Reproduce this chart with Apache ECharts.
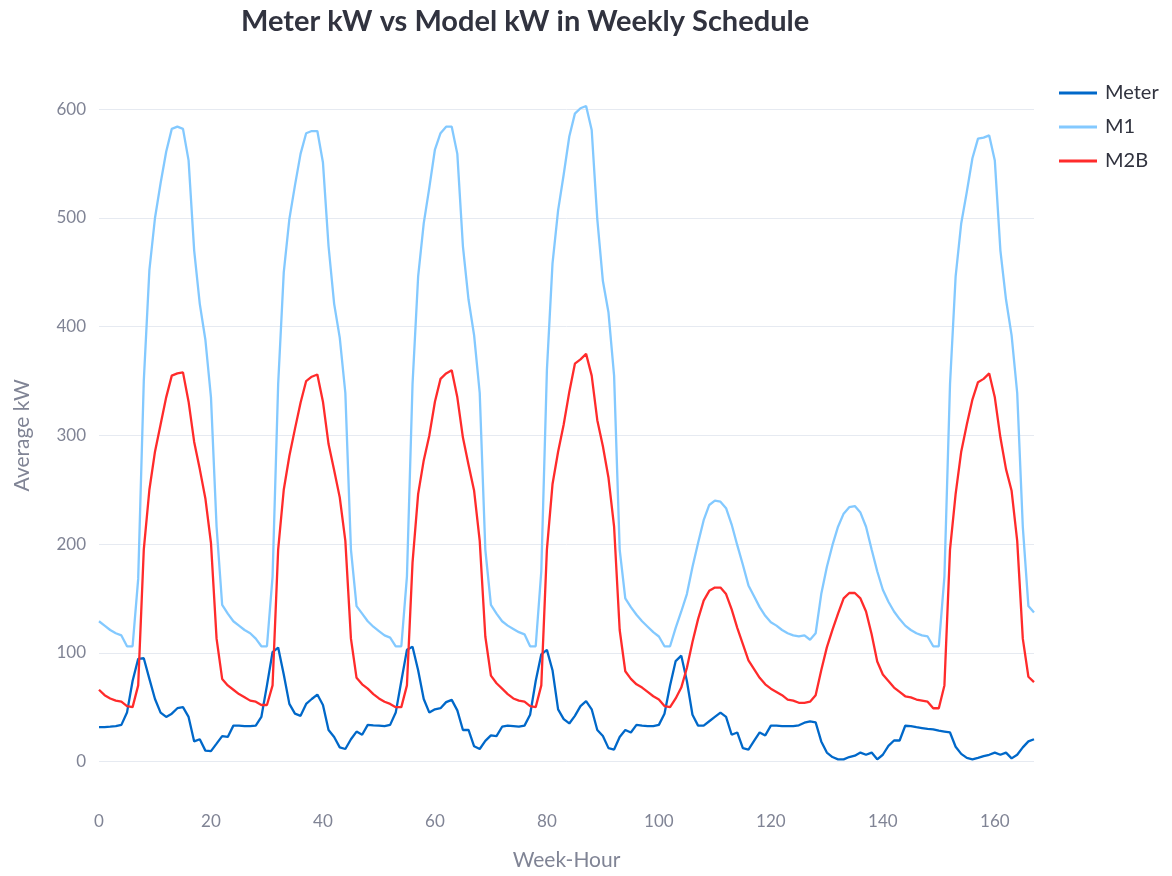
<!DOCTYPE html>
<html>
<head>
<meta charset="utf-8">
<title>Meter kW vs Model kW</title>
<script src="https://cdn.jsdelivr.net/npm/echarts@6/dist/echarts.min.js"></script>
<style>
  html, body { margin: 0; padding: 0; background: #fff; }
  #lineChart { width: 1172px; height: 876px; }
</style>
</head>
<body>
<div id="lineChart"></div>
<script>
// week hours 0..167
var hours = [];
for (var h = 0; h < 168; h++) hours.push(h);

var meterKw = [
  31.6, 31.6, 32, 32.5, 33.7, 45, 74, 94.5, 95, 76, 57.5, 45, 41, 44, 49, 50, 41, 18.5, 20.5, 10, 9.5, 16.4, 23.4, 22.6,
  33, 33, 32.5, 32.5, 33, 41, 70, 100.7, 104.8, 80, 53, 44, 42, 53, 57.5, 61.6, 52, 29, 22.6, 13, 11.5, 20.5, 27.5, 24.6,
  33.7, 33.3, 33, 32.5, 33.7, 45, 74, 102.7, 105.6, 84, 57.5, 45, 48, 49, 54.6, 56.7, 47, 29, 29, 14, 11.5, 19, 24, 23.4,
  32, 33, 32.5, 32, 33, 43, 74, 98.6, 102.7, 84, 48, 39, 35, 42, 51, 55.5, 48, 29, 23.4, 12.3, 11, 22.6, 29, 26.7,
  33.7, 33, 32.5, 32.5, 33.7, 44, 70, 92.4, 97.4, 74, 43, 33, 33, 37, 41, 45, 41, 24.6, 26.7, 12.3, 11, 19, 26.7, 24,
  33, 33, 32.5, 32.5, 32.5, 33.3, 35.7, 37, 36, 18.5, 8.2, 4.1, 2, 2, 4.1, 5.3, 8.2, 6.2, 8.2, 2, 6.2, 14.4, 19.3, 19.3,
  32.9, 32.5, 31.6, 30.8, 30, 29.6, 28.3, 27.5, 26.7, 13.6, 7, 3.3, 2, 3.3, 4.9, 6.2, 8.2, 6.2, 8.2, 2.9, 6.2, 13, 18.5, 20.5
];

var m1Kw = [
  129, 125, 121, 118, 116, 106, 106, 168, 350, 452, 500, 532, 561, 582, 584, 582, 553, 470, 421, 388, 335, 216, 144, 136,
  129, 125, 121, 118, 113, 106, 106, 170, 347, 450, 499, 530, 559, 578, 580, 580, 551, 474, 421, 390, 339, 195, 143, 136,
  129, 124, 120, 116, 114, 106, 106, 170, 347, 446, 495, 528, 563, 578, 584, 584, 559, 474, 425, 392, 339, 195, 144, 136,
  129, 125, 122, 119, 117, 106, 106, 175, 360, 458, 507, 540, 575, 596, 601, 603, 581, 499, 442, 413, 355, 195, 150, 142,
  135, 129, 124, 119, 115, 106, 106, 123, 138, 154, 179, 201, 222, 236, 240, 239, 233, 218, 199, 181, 162, 152, 142, 134,
  128, 125, 121, 118, 116, 115, 116, 112, 118, 154, 179, 199, 216, 228, 234, 235, 229, 216, 195, 175, 158, 147, 138, 131,
  125, 121, 118, 116, 115, 106, 106, 170, 347, 446, 495, 524, 555, 573, 574, 576, 553, 470, 425, 392, 339, 216, 143, 137
];

var m2bKw = [
  66, 61, 58, 56, 55, 51, 50, 70, 195, 250, 285, 310, 335, 355, 357, 358, 331, 294, 269, 242, 201, 113, 76, 70,
  66, 62, 59, 56, 55, 52, 52, 70, 195, 250, 281, 306, 330, 350, 354, 356, 331, 292, 268, 243, 203, 113, 77, 71,
  67, 62, 58, 55, 53, 50, 50, 70, 183, 246, 277, 300, 331, 352, 357, 360, 335, 298, 273, 249, 203, 115, 79, 72,
  67, 62, 58, 56, 55, 51, 50, 70, 195, 255, 285, 310, 340, 366, 370, 375, 355, 314, 290, 261, 216, 121, 83, 76,
  71, 68, 64, 60, 57, 51, 50, 58, 68, 86, 110, 131, 148, 157, 160, 160, 154, 140, 123, 108, 93, 85, 77, 71,
  67, 64, 61, 57, 56, 54, 54, 55, 61, 84, 105, 121, 136, 150, 155, 155, 150, 138, 117, 92, 80, 74, 68, 64,
  60, 59, 57, 56, 55, 49, 49, 70, 195, 246, 285, 310, 333, 349, 352, 357, 335, 298, 269, 249, 203, 113, 78, 73
];

var seriesNames = ['Meter', 'M1', 'M2B'];
var seriesColors = ['#0068C9', '#83C9FF', '#FF2B2B'];

function pairs(values) {
  return hours.map(function (h, i) { return [h, values[i]]; });
}

var labelGrey = '#808495';
var textDark = '#31333F';
var fontName = 'Lato, "Open Sans", sans-serif';

var myChart = echarts.init(document.getElementById('lineChart'));

var optionLine = {
  animation: false,
  title: {
    text: 'Meter kW vs Model kW in Weekly Schedule',
    left: 241,
    top: 7,
    padding: 0,
    textStyle: {
      fontFamily: fontName,
      fontWeight: 'bold',
      fontSize: 29,
      color: textDark
    }
  },
  legend: {
    orient: 'vertical',
    left: 1059,
    top: 83,
    padding: 0,
    icon: 'rect',
    itemWidth: 38,
    itemHeight: 3,
    itemGap: 14,
    textStyle: {
      fontFamily: fontName,
      fontSize: 20,
      color: textDark,
      padding: [0, 0, 0, 3]
    },
    data: seriesNames
  },
  grid: {
    left: 99,
    right: 1172 - 1034,
    top: 109.3,
    bottom: 876 - 761.5,
    containLabel: false
  },
  xAxis: {
    type: 'value',
    min: 0,
    max: 167,
    interval: 20,
    name: 'Week-Hour',
    nameLocation: 'middle',
    nameGap: 88,
    nameTextStyle: {
      fontFamily: fontName,
      fontSize: 21,
      color: labelGrey
    },
    axisLine: { show: false },
    axisTick: { show: false },
    splitLine: { show: false },
    axisLabel: {
      margin: 52,
      showMaxLabel: false,
      fontFamily: fontName,
      fontSize: 17,
      color: labelGrey
    }
  },
  yAxis: {
    type: 'value',
    min: 0,
    max: 600,
    interval: 100,
    name: 'Average kW',
    nameLocation: 'middle',
    nameGap: 66,
    nameTextStyle: {
      fontFamily: fontName,
      fontSize: 21,
      color: labelGrey
    },
    axisLine: { show: false },
    axisTick: { show: false },
    axisLabel: {
      margin: 13,
      fontFamily: fontName,
      fontSize: 17,
      color: labelGrey
    },
    splitLine: {
      lineStyle: { color: '#E6EAF1', width: 1 }
    }
  },
  series: [meterKw, m1Kw, m2bKw].map(function (vals, i) {
    return {
      name: seriesNames[i],
      type: 'line',
      data: pairs(vals),
      symbol: 'none',
      clip: false,
      color: seriesColors[i],
      lineStyle: { width: 2.3, color: seriesColors[i] }
    };
  })
};

myChart.setOption(optionLine);
</script>
</body>
</html>
